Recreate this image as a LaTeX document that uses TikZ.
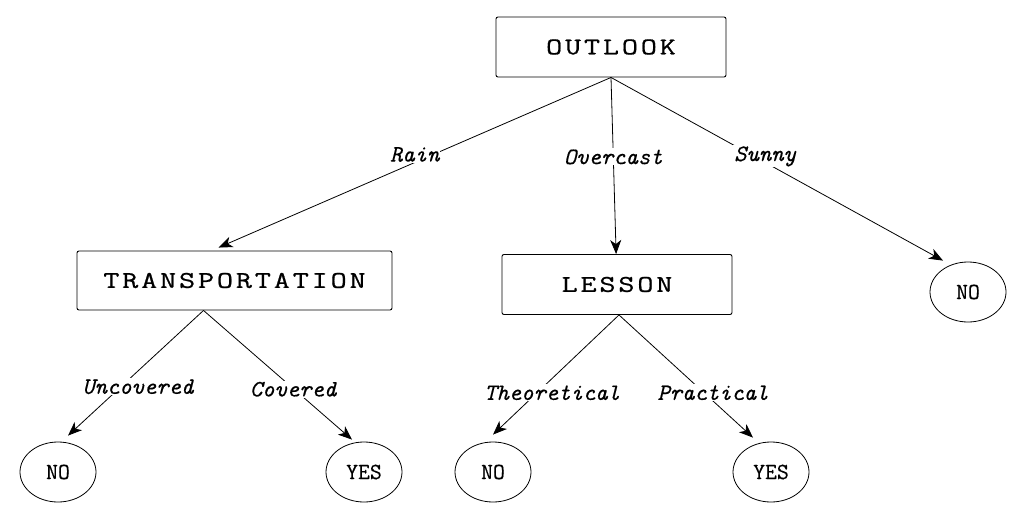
\documentclass[tikz,border=0pt]{standalone}
\usepackage{fontspec}
\usepackage{tikz}
\usetikzlibrary{arrows.meta,positioning,calc,shapes.geometric}
\newfontfamily\boxfont[FakeStretch=1.3,LetterSpace=12,FakeBold=0.8]{Latin Modern Mono}
\newfontfamily\treefont[FakeBold=0.4]{Latin Modern Mono}

\begin{document}
\begin{tikzpicture}[
  x=1pt, y=-1pt,
  box/.style={draw, rounded corners=2pt, line width=0.9pt, minimum width=230pt, minimum height=60pt, font=\boxfont\fontsize{24}{24}\selectfont},
  leaf/.style={draw, ellipse, line width=0.8pt, minimum width=76pt, minimum height=60pt, inner sep=0pt, font=\treefont\fontsize{23}{23}\selectfont},
  lbl/.style={fill=white, inner sep=1pt, font=\treefont\itshape\fontsize{23.5}{23.5}\selectfont},
  arrow/.style={-{Stealth[length=14pt,width=11pt,inset=4pt]}, line width=0.8pt},
]
\useasboundingbox (0,0) rectangle (1009,511);

% --- decision nodes ---
\node[box] (outlook) at (611,47) {OUTLOOK};
\node[box, minimum width=315pt, minimum height=59pt] (transport) at (234.5,280.5) {TRANSPORTATION};
\node[box] (lesson) at (617,284.5) {LESSON};

% --- leaves ---
\node[leaf] (noA) at (58,472) {NO};
\node[leaf] (yesA) at (364,472) {YES};
\node[leaf] (noB) at (493,472) {NO};
\node[leaf] (yesB) at (771,472) {YES};
\node[leaf] (noC) at (968,292) {NO};

% --- branches from the root ---
\draw[arrow] (outlook.south) -- node[lbl, pos=.5, yshift=8pt] {Rain} ($(transport.north)+(-16,-3)$);
\draw[arrow] (outlook.south) -- node[lbl, pos=.45] {Overcast} (lesson);
\draw[arrow] (outlook.south) -- node[lbl, pos=.464, yshift=6pt] {Sunny} ($(noC.north)+(-25,-1)$);

% --- branches below TRANSPORTATION ---
\draw[arrow] ($(transport.south)+(-31,0)$) -- node[lbl, pos=.61, xshift=17pt] {Uncovered} ($(noA.north)+(10,-6)$);
\draw[arrow] ($(transport.south)+(-31,0)$) -- node[lbl, pos=.61, xshift=-1pt] {Covered} ($(yesA.north)+(-12,-2)$);

% --- branches below LESSON ---
\draw[arrow] ($(lesson.south)+(2,0)$) -- node[lbl, pos=.65, xshift=15pt] {Theoretical} ($(noB.north)+(0,-7)$);
\draw[arrow] ($(lesson.south)+(2,0)$) -- node[lbl, pos=.634, xshift=9pt] {Practical} ($(yesB.north)+(-18,-4)$);

\end{tikzpicture}
\end{document}
